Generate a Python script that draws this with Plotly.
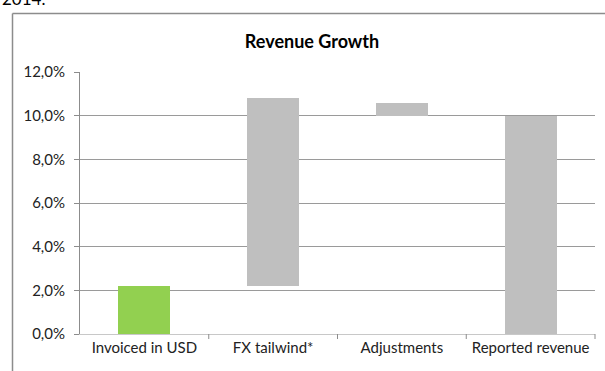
import plotly.graph_objects as go

categories = ["Invoiced in USD", "FX tailwind*", "Adjustments", "Reported revenue"]
base_values = [0.0, 2.2, 10.0, 0.0]
bar_values = [2.2, 8.6, 0.6, 10.0]
bar_colors = ["#92D050", "#BFBFBF", "#BFBFBF", "#BFBFBF"]
tick_vals = [0, 2, 4, 6, 8, 10, 12]
tick_text = ["0,0%", "2,0%", "4,0%", "6,0%", "8,0%", "10,0%", "12,0%"]
title_text = "Revenue Growth"
caption_text = "2014."

FONT = "Lato, 'Open Sans', sans-serif"

W, H = 605, 371
ml, mr, mt, mb = 80, 10, 72, 37
pw, ph = W - ml - mr, H - mt - mb

fig = go.Figure()
fig.add_trace(go.Bar(x=categories, y=base_values, marker=dict(color="rgba(0,0,0,0)", line=dict(width=0)),
                     hoverinfo="skip", showlegend=False))
fig.add_trace(go.Bar(x=categories, y=bar_values, marker=dict(color=bar_colors, line=dict(width=0)),
                     showlegend=False))

def px_x(p):
    return (p - ml) / pw

def px_y(p):
    return (H - mb - p) / ph

border_color = "#8C8C8C"
fig.update_layout(
    width=W, height=H,
    barmode="stack", bargap=0.595,
    margin=dict(l=ml, r=mr, t=mt, b=mb),
    plot_bgcolor="white", paper_bgcolor="white",
    font=dict(family=FONT, size=15, color="#222222"),
    title=dict(text="<b>" + title_text + "</b>", x=312 / W, xref="container",
               xanchor="center", y=1 - 42 / H, yanchor="middle",
               font=dict(family=FONT, size=18, color="#000000")),
    xaxis=dict(showgrid=False, showline=True, linecolor="#C8C8C8", linewidth=1,
               ticks="", tickfont=dict(size=15, color="#222222"), fixedrange=True),
    yaxis=dict(range=[0, 12], tickvals=tick_vals, ticktext=tick_text, showgrid=True,
               gridcolor="#9A9A9A", gridwidth=1, showline=True, linecolor="#8C8C8C", linewidth=1,
               ticks="outside", ticklen=5, tickcolor="#8C8C8C", zeroline=False,
               tickfont=dict(size=15, color="#222222"), ticklabelstandoff=6),
    shapes=[
        dict(type="line", xref="paper", yref="paper", x0=px_x(12.5), x1=px_x(12.5), y0=px_y(13.5), y1=px_y(380),
             line=dict(color=border_color, width=1.5)),
        dict(type="line", xref="paper", yref="paper", x0=px_x(12.5), x1=px_x(620), y0=px_y(13.5), y1=px_y(13.5),
             line=dict(color=border_color, width=1.5)),
    ] + [
        dict(type="line", xref="paper", yref="paper", x0=(i / 4), x1=(i / 4), y0=0, y1=px_y(339),
             line=dict(color="#8C8C8C", width=1)) for i in range(1, 5)
    ],
    annotations=[
        dict(text=caption_text, xref="paper", yref="paper", x=px_x(0), y=px_y(11), xanchor="left",
             yanchor="bottom", showarrow=False, font=dict(family=FONT, size=17, color="#000000")),
    ],
)

fig.write_html("out.html")
